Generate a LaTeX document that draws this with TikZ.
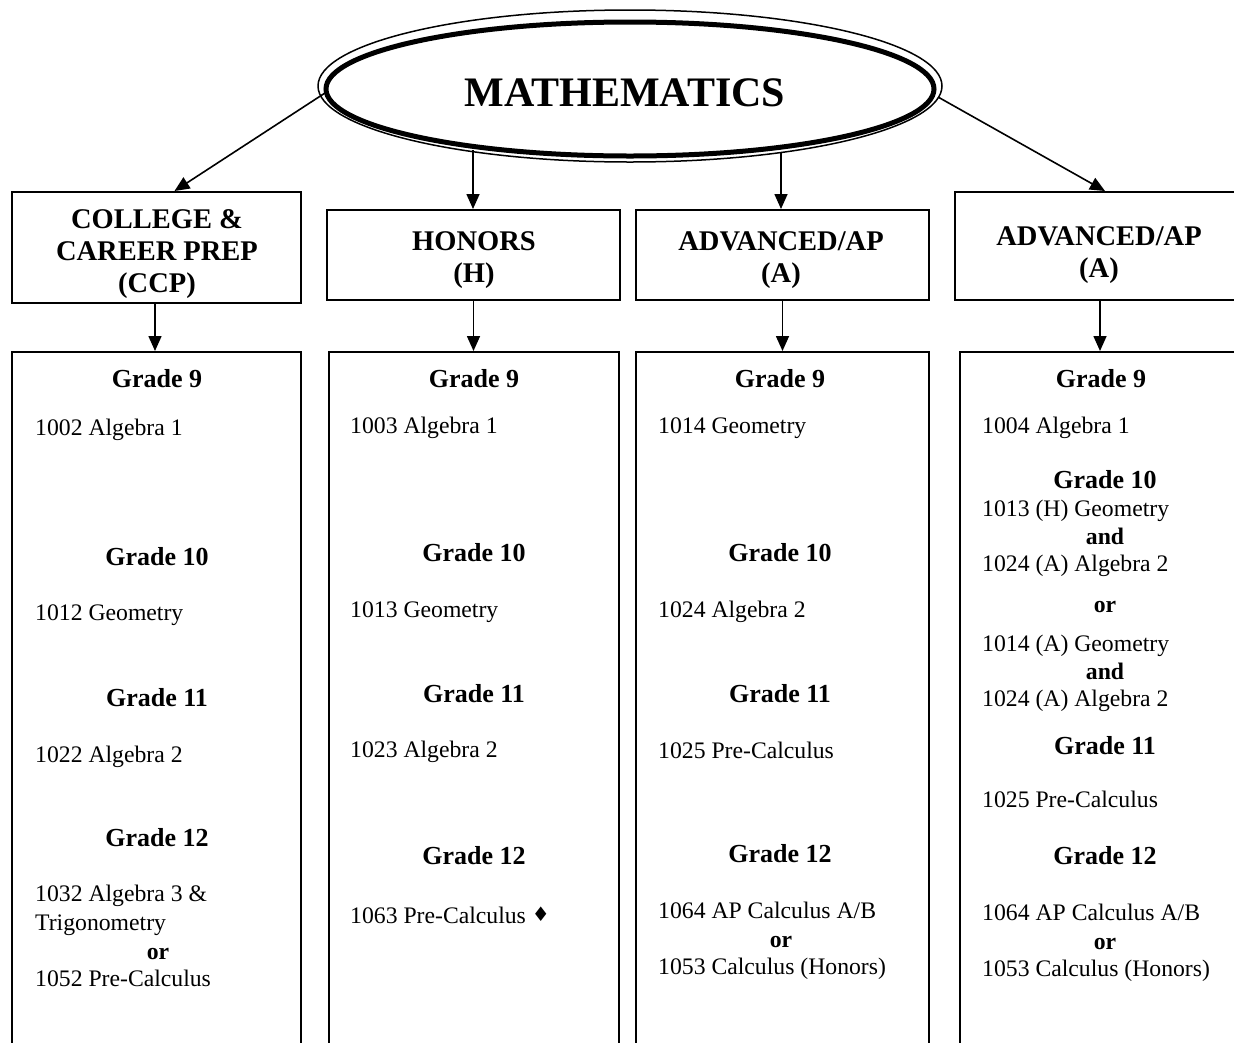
\documentclass[tikz,border=0pt]{standalone}
\usepackage{fontspec}
\setmainfont{Liberation Serif}
\newfontfamily\symfont{DejaVu Sans}
\usetikzlibrary{arrows.meta,shapes.geometric}
\tikzset{
 box/.style={draw, line width=2pt, inner sep=0pt},
 hdr/.style={font=\fontsize{28.5}{32}\selectfont\bfseries, align=center, inner sep=0pt, yshift=-3pt},
 grade/.style={font=\fontsize{26}{30}\selectfont\bfseries, anchor=mid, inner sep=0pt, yshift=-6.5pt},
 course/.style={font=\fontsize{23.7}{28}\selectfont, anchor=mid west, inner sep=0pt, yshift=-6pt},
 conj/.style={font=\fontsize{23.7}{28}\selectfont\bfseries, anchor=mid, inner sep=0pt, yshift=-6pt},
 arr/.style={line width=1.6pt, -{Triangle[length=15pt,width=13pt]}},
}
\begin{document}
\begin{tikzpicture}[x=1pt,y=-1pt]
\useasboundingbox (0,0) rectangle (1234,1042);
\clip (0,0) rectangle (1234,1042);
% title ellipse
\draw[line width=1.5pt] (630,86) ellipse [x radius=312, y radius=76];
\node[ellipse, draw, line width=5pt, minimum width=608pt, minimum height=134pt, inner sep=0pt] (math) at (630,89) {};
\node[font=\fontsize{42}{46}\selectfont\bfseries, inner sep=0pt] (mtitle) at (625,93) {MATHEMATICS};
% header boxes
\node[box, minimum width=289pt, minimum height=111pt] (ccp) at (156.5,247.5) {};
\node[box, minimum width=293pt, minimum height=90pt] (hon) at (473.5,255) {};
\node[box, minimum width=293pt, minimum height=90pt] (a3) at (782.5,255) {};
\node[box, minimum width=290pt, minimum height=108pt] (a4) at (1100,246) {};
\node[hdr] (ccpt) at (157,251) {COLLEGE \&\\CAREER PREP\\(CCP)};
\node[hdr] (hont) at (474,257) {HONORS\\(H)};
\node[hdr] (a3t) at (781,257) {ADVANCED/AP\\(A)};
\node[hdr] (a4t) at (1099,252) {ADVANCED/AP\\(A)};
% big boxes
\node[box, minimum width=289pt, minimum height=708pt] (b1) at (156.5,706) {};
\node[box, minimum width=290pt, minimum height=708pt] (b2) at (474,706) {};
\node[box, minimum width=293pt, minimum height=708pt] (b3) at (782.5,706) {};
\node[box, minimum width=282pt, minimum height=708pt] (b4) at (1101,706) {};
% connectors from title
\coordinate (e1) at (325,93);
\coordinate (e2) at (473,150);
\coordinate (e3) at (781,152);
\coordinate (e4) at (938,97);
\draw[arr] (e1) -- ([xshift=18pt]ccp.north);
\draw[arr] (e2) -- (e2 |- hon.north);
\draw[arr] (e3) -- (e3 |- a3.north);
\draw[arr] (e4) -- ([xshift=5pt]a4.north);
% connectors header -> column
\draw[arr] ([xshift=-1.5pt]ccp.south) -- ([xshift=-1.5pt]ccp.south |- b1.north);
\draw[arr] (hon.south) -- (hon.south |- b2.north);
\draw[arr] (a3.south) -- (a3.south |- b3.north);
\draw[arr] (a4.south) -- (a4.south |- b4.north);
% column 1
\node[grade] (c1g9) at (157,379) {Grade 9};
\node[course] (c1a) at (35,427) {1002 Algebra 1};
\node[grade] (c1g10) at (157,557) {Grade 10};
\node[course] (c1b) at (35,612) {1012 Geometry};
\node[grade] (c1g11) at (157,698) {Grade 11};
\node[course] (c1c) at (35,754) {1022 Algebra 2};
\node[grade] (c1g12) at (157,838) {Grade 12};
\node[course] (c1d) at (35,893) {1032 Algebra 3 \&};
\node[course] (c1e) at (35,922) {Trigonometry};
\node[conj] (c1or) at (158,951) {or};
\node[course] (c1f) at (35,978) {1052 Pre-Calculus};
% column 2
\node[grade] (c2g9) at (474,379) {Grade 9};
\node[course] (c2a) at (350,425) {1003 Algebra 1};
\node[grade] (c2g10) at (474,553) {Grade 10};
\node[course] (c2b) at (350,609) {1013 Geometry};
\node[grade] (c2g11) at (474,694) {Grade 11};
\node[course] (c2c) at (350,749) {1023 Algebra 2};
\node[grade] (c2g12) at (474,856) {Grade 12};
\node[course] (c2d) at (350,915) {1063 Pre-Calculus \raisebox{1.5pt}{\symfont\fontsize{20}{20}\selectfont ♦}};
% column 3
\node[grade] (c3g9) at (780,379) {Grade 9};
\node[course] (c3a) at (658,425) {1014 Geometry};
\node[grade] (c3g10) at (780,553) {Grade 10};
\node[course] (c3b) at (658,609) {1024 Algebra 2};
\node[grade] (c3g11) at (780,694) {Grade 11};
\node[course] (c3c) at (658,750) {1025 Pre-Calculus};
\node[grade] (c3g12) at (780,854) {Grade 12};
\node[course] (c3d) at (658,910) {1064 AP Calculus A/B};
\node[conj] (c3or) at (781,939) {or};
\node[course] (c3e) at (658,966) {1053 Calculus (Honors)};
% column 4
\node[grade] (c4g9) at (1101,379) {Grade 9};
\node[course] (c4a) at (982,425) {1004 Algebra 1};
\node[grade] (c4g10) at (1105,480) {Grade 10};
\node[course] (c4b) at (982,508) {1013 (H) Geometry};
\node[conj] (c4and1) at (1105,536) {and};
\node[course] (c4c) at (982,563) {1024 (A) Algebra 2};
\node[conj] (c4or1) at (1105,604) {or};
\node[course] (c4d) at (982,643) {1014 (A) Geometry};
\node[conj] (c4and2) at (1105,671) {and};
\node[course] (c4e) at (982,698) {1024 (A) Algebra 2};
\node[grade] (c4g11) at (1105,746) {Grade 11};
\node[course] (c4f) at (982,799) {1025 Pre-Calculus};
\node[grade] (c4g12) at (1105,856) {Grade 12};
\node[course] (c4g) at (982,912) {1064 AP Calculus A/B};
\node[conj] (c4or2) at (1105,941) {or};
\node[course] (c4h) at (982,968) {1053 Calculus (Honors)};
\end{tikzpicture}
\end{document}
